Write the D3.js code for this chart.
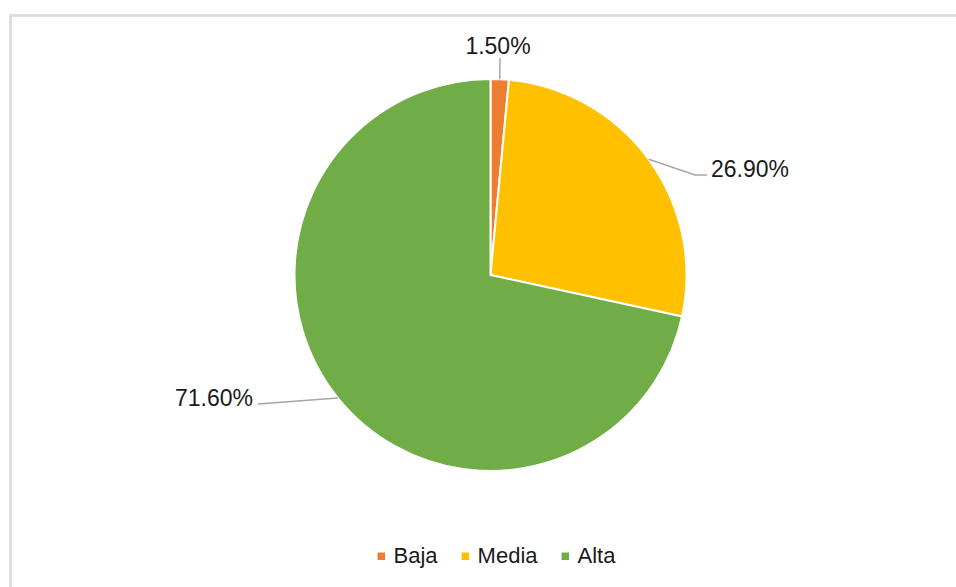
<html>
<head>
  <meta charset="utf-8">
  <style>
    body { margin: 0; background: #fff; }
    svg { display: block; font-family: "Liberation Sans", Arial, sans-serif; }
  </style>
</head>
<body>
  <svg width="956" height="587"></svg>
  <script src="https://d3js.org/d3.v7.min.js"></script>
  <script>

  var categories = ["Baja", "Media", "Alta"];
  var values = [1.5, 26.9, 71.6];
  var colors = ["#ED7D31", "#FFC000", "#70AD47"];

  var svg = d3.select("svg"),
    width = +svg.attr("width"),
    height = +svg.attr("height");

  // chart frame, runs past the right and bottom edge
  svg.append("rect")
    .attr("x", 10.5).attr("y", 15.5)
    .attr("width", width + 20).attr("height", height + 20)
    .attr("fill", "none")
    .attr("stroke", "#d9d9d9")
    .attr("stroke-width", 2.5);

  var cx = 490.5, cy = 275, radius = 196;

  var color = d3.scaleOrdinal().domain(categories).range(colors);

  var pie = d3.pie().sort(null).value(function(d) { return d.value; });
  var arc = d3.arc().innerRadius(0).outerRadius(radius);

  var data = categories.map(function(c, i) { return {name: c, value: values[i]}; });
  var arcs = pie(data);

  var g = svg.append("g").attr("transform", "translate(" + cx + "," + cy + ")");

  g.selectAll("path.slice")
    .data(arcs)
    .enter()
    .append("path")
    .attr("class", "slice")
    .attr("d", arc)
    .attr("fill", function(d) { return color(d.data.name); })
    .attr("stroke", "#fff")
    .attr("stroke-width", 2)
    .attr("stroke-linejoin", "round");

  // where each leader line ends (relative to centre) and how the text sits on it
  var labelLayout = {
    Baja:  {pts: [[9.5, -217]], anchor: "middle", dx: -2, dy: -4},
    Media: {pts: [[204.5, -100], [216.5, -100]], anchor: "start", dx: 4, dy: 2},
    Alta:  {pts: [[-232.5, 129]], anchor: "end", dx: -5, dy: 2}
  };

  var fmt = function(v) { return v.toFixed(2) + "%"; };

  arcs.forEach(function(d) {
    var lay = labelLayout[d.data.name];
    var mid = (d.startAngle + d.endAngle) / 2;
    var start = [Math.sin(mid) * radius, -Math.cos(mid) * radius];
    var pts = [start].concat(lay.pts);
    g.append("path")
      .attr("d", d3.line()(pts))
      .attr("fill", "none")
      .attr("stroke", "#a6a6a6")
      .attr("stroke-width", 1.5);
    var end = pts[pts.length - 1];
    g.append("text")
      .attr("x", end[0] + lay.dx)
      .attr("y", end[1] + lay.dy)
      .attr("text-anchor", lay.anchor)
      .style("font-size", "23px")
      .style("fill", "#1a1a1a")
      .text(fmt(d.data.value));
  });

  // legend
  var legend = svg.append("g");
  var x = 0;
  categories.forEach(function(c) {
    var item = legend.append("g").attr("transform", "translate(" + x + ",0)");
    item.append("rect")
      .attr("x", 0).attr("y", -10.5)
      .attr("width", 7.5).attr("height", 7.5)
      .attr("fill", color(c));
    var t = item.append("text")
      .attr("x", 16).attr("y", 0)
      .style("font-size", "22px")
      .style("fill", "#1a1a1a")
      .text(c);
    x += 16 + t.node().getComputedTextLength() + 24;
  });
  var lw = x - 24;
  legend.attr("transform", "translate(" + (496.5 - lw / 2) + ",563)");

  </script>
</body>
</html>
